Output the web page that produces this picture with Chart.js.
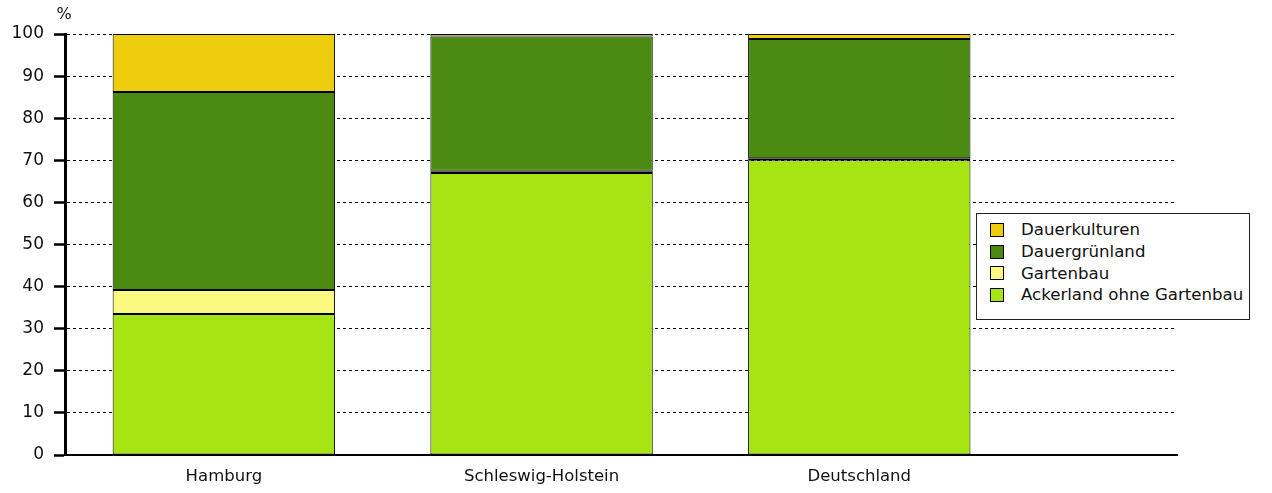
<!DOCTYPE html>
<html>
<head>
<meta charset="utf-8">
<script src="https://cdn.jsdelivr.net/npm/chart.js@4/dist/chart.umd.min.js"></script>
<style>
  html, body { margin: 0; padding: 0; background: #fff; }
  #wrap { position: relative; width: 1272px; height: 493px; }
  #legend {
    position: absolute; left: 976px; top: 213px; width: 274px; height: 107px;
    background: #fff; border: 1px solid #222; box-sizing: border-box;
    font-family: "DejaVu Sans", sans-serif; font-size: 16.6px; color: #111;
    padding-top: 5px;
  }
  .li { display: flex; align-items: center; height: 21.7px; }
  .sw { width: 12px; height: 12px; border: 1px solid #000; margin-left: 13px; margin-right: 17px; flex: none; }
</style>
</head>
<body>
<div id="wrap">
  <canvas id="c" width="1272" height="493"></canvas>
  <div id="legend"></div>
</div>
<script>
const categories = ['Hamburg', 'Schleswig-Holstein', 'Deutschland'];
const ackerland = [33.5, 67.0, 70.0];
const gartenbau = [5.7, 0.5, 0.5];
const dauergruenland = [47.0, 31.9, 28.3];
const dauerkulturen = [13.8, 0.6, 1.2];
const yTicks = [0, 10, 20, 30, 40, 50, 60, 70, 80, 90, 100];

const seriesNames = ['Ackerland ohne Gartenbau', 'Gartenbau', 'Dauergrünland', 'Dauerkulturen'];
const seriesValues = [ackerland, gartenbau, dauergruenland, dauerkulturen];
const seriesColors = ['#A6E414', '#FAFA80', '#4A8A10', '#EDCD0D'];

const datasets = seriesNames.map((name, s) => ({
  label: name,
  data: seriesValues[s].map((v, i) => ({ x: i, y: v })),
  backgroundColor: seriesColors[s],
  borderColor: '#000',
  borderWidth: 1,
  borderSkipped: false,
  barPercentage: 0.7,
  categoryPercentage: 1.0
}));

const XFONT = { family: '"DejaVu Sans", sans-serif', size: 16.5 };
const YFONT = { family: '"DejaVu Sans", sans-serif', size: 17 };

const percentLabel = {
  id: 'percentLabel',
  afterDraw(chart) {
    const ctx = chart.ctx;
    ctx.save();
    ctx.font = '16px "DejaVu Sans", sans-serif';
    ctx.fillStyle = '#111';
    ctx.textAlign = 'center';
    ctx.textBaseline = 'middle';
    ctx.fillText('%', chart.scales.y.right - 1, 15);
    ctx.restore();
  }
};

const chart = new Chart(document.getElementById('c'), {
  type: 'bar',
  data: { datasets },
  options: {
    responsive: false,
    animation: false,
    layout: { padding: { left: 0, right: 95, top: 34, bottom: 0 } },
    plugins: { legend: { display: false }, tooltip: { enabled: false } },
    scales: {
      x: {
        type: 'linear',
        stacked: true,
        offset: false,
        min: -0.5,
        max: 3,
        afterBuildTicks(scale) { scale.ticks = categories.map((c, i) => ({ value: i })); },
        afterFit(scale) { scale.height = 38; },
        ticks: {
          font: XFONT, color: '#111', padding: 12, maxRotation: 0, autoSkip: false,
          callback: (v) => categories[v]
        },
        grid: { display: false, drawTicks: false, offset: false },
        border: { display: true, color: '#000', width: 2 }
      },
      y: {
        stacked: true,
        min: 0,
        max: 100,
        afterBuildTicks(scale) { scale.ticks = yTicks.map(v => ({ value: v })); },
        afterFit(scale) { scale.width = 65; },
        ticks: { font: YFONT, color: '#111', padding: 10 },
        grid: {
          color: '#000', lineWidth: 1, tickLength: 11, tickColor: '#000', tickWidth: 2.5
        },
        border: { display: true, color: '#000', width: 3, dash: [3, 3] }
      }
    }
  },
  plugins: [percentLabel]
});

const leg = document.getElementById('legend');
chart.data.datasets.slice().reverse().forEach(ds => {
  const row = document.createElement('div');
  row.className = 'li';
  const sw = document.createElement('span');
  sw.className = 'sw';
  sw.style.background = ds.backgroundColor;
  const tx = document.createElement('span');
  tx.textContent = ds.label;
  row.appendChild(sw);
  row.appendChild(tx);
  leg.appendChild(row);
});
</script>
</body>
</html>
